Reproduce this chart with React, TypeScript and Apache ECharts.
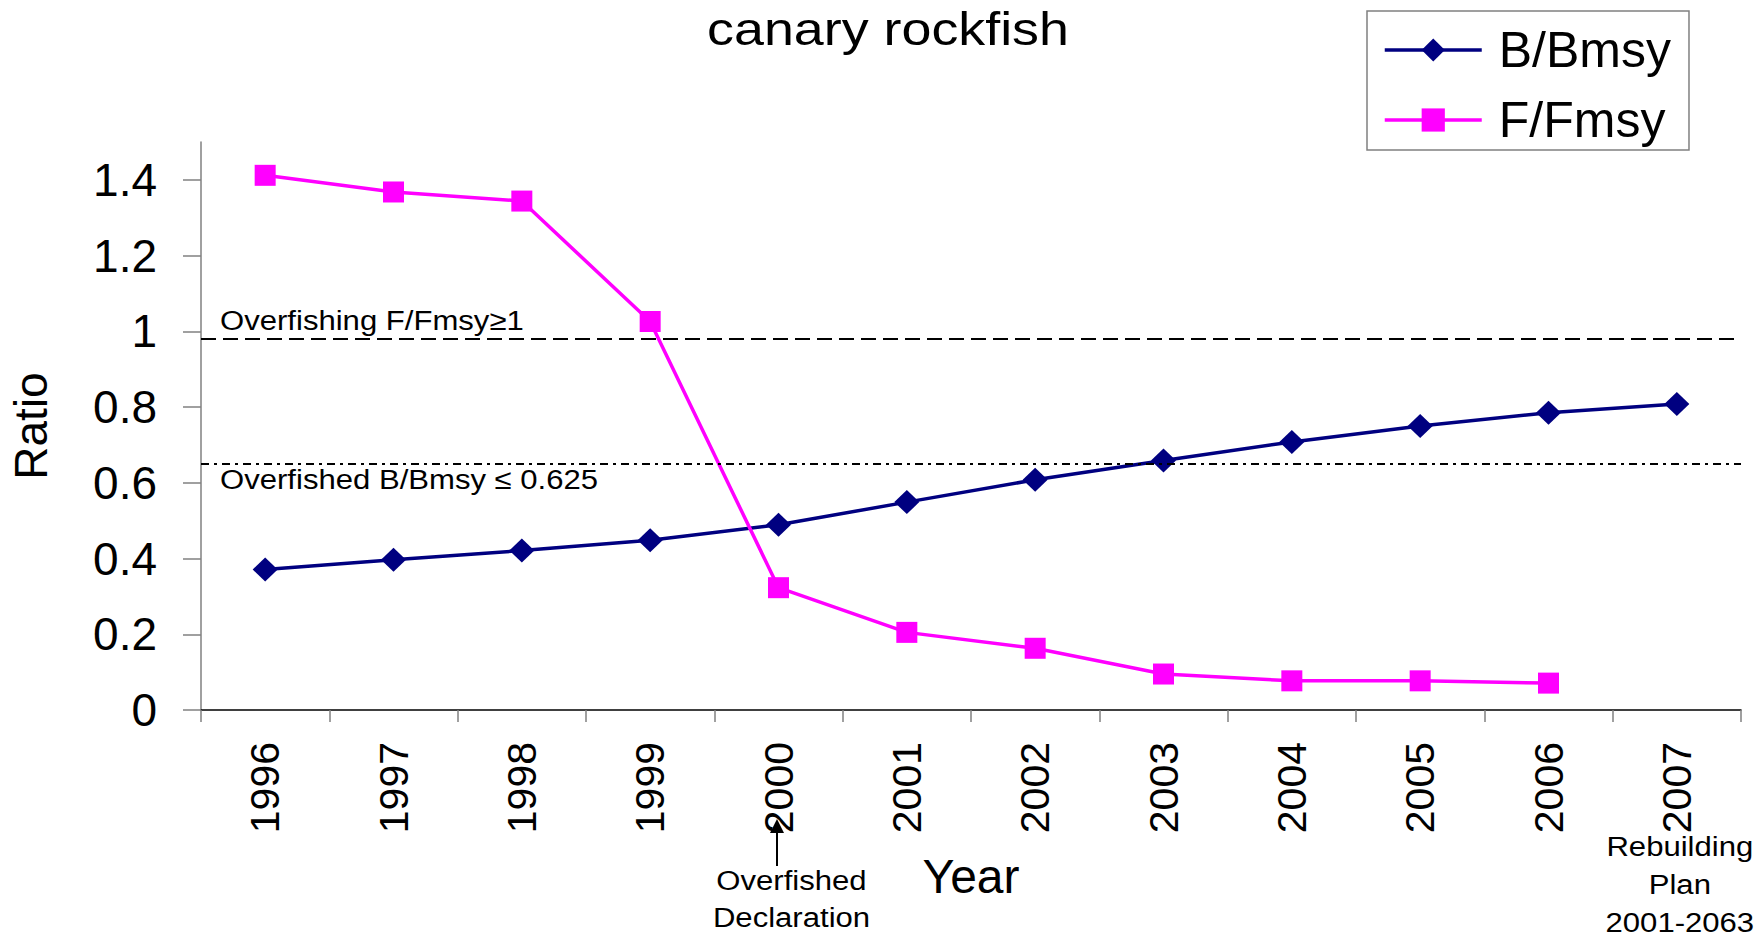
import React, { useEffect, useRef } from "react";
import * as echarts from "echarts";

const years = ["1996", "1997", "1998", "1999", "2000", "2001", "2002", "2003", "2004", "2005", "2006", "2007"];
const bRatio = [0.371, 0.397, 0.421, 0.448, 0.489, 0.549, 0.608, 0.659, 0.708, 0.75, 0.785, 0.808];
const fRatio = [1.412, 1.368, 1.344, 1.026, 0.323, 0.205, 0.163, 0.095, 0.077, 0.077, 0.071, null];
const yTicks = [0, 0.2, 0.4, 0.6, 0.8, 1, 1.2, 1.4];
const overfishingLevel = 0.985;
const overfishedLevel = 0.646;

const FONT = '"Liberation Sans", Arial, Helvetica, sans-serif';

export default function App() {
  const ref = useRef<HTMLDivElement>(null);

  useEffect(() => {
    if (!ref.current) return;
    const chart = echarts.init(ref.current, undefined, { renderer: "svg" });
    chart.setOption({
      animation: false,
      backgroundColor: "#ffffff",
      grid: { left: 201, right: 17, top: 142, bottom: 228, containLabel: false },
      legend: {
        orient: "vertical",
        left: 1367,
        top: 11,
        padding: [14, 18, 5, 16],
        itemGap: 20,
        itemWidth: 97,
        itemHeight: 29,
        borderColor: "#808080",
        borderWidth: 1.5,
        lineStyle: { width: 3.5 },
        textStyle: { fontSize: 50, fontFamily: FONT, color: "#000", padding: [0, 0, 0, 12] },
        data: ["B/Bmsy", "F/Fmsy"],
      },
      xAxis: {
        type: "category",
        data: years,
        boundaryGap: true,
        axisLine: { lineStyle: { color: "#000", width: 1.5 } },
        axisTick: { show: true, length: 12, lineStyle: { color: "#808080", width: 1.5 } },
        axisLabel: { rotate: 90, fontSize: 41, fontFamily: FONT, color: "#000", margin: 32, interval: 0 },
        name: "Year",
        nameLocation: "middle",
        nameGap: 142,
        nameTextStyle: { fontSize: 48, fontFamily: FONT, color: "#000" },
      },
      yAxis: {
        type: "value",
        min: 0,
        max: 1.5,
        interval: 0.2,
        splitLine: { show: false },
        axisLine: { show: true, lineStyle: { color: "#808080", width: 1.5 } },
        axisTick: { show: true, length: 18, customValues: yTicks, lineStyle: { color: "#808080", width: 1.5 } },
        axisLabel: { fontSize: 46, fontFamily: FONT, color: "#000", margin: 44, customValues: yTicks },
        name: "Ratio",
        nameLocation: "middle",
        nameGap: 147,
        nameTextStyle: { fontSize: 46, fontFamily: FONT, color: "#000" },
      },
      series: [
        {
          name: "B/Bmsy",
          type: "line",
          data: bRatio,
          symbol: "diamond",
          symbolSize: [25, 24],
          color: "#000080",
          lineStyle: { width: 3.5, color: "#000080" },
          itemStyle: { color: "#000080" },
          z: 3,
          markLine: {
            silent: true,
            symbol: ["none", "none"],
            label: { show: false },
            data: [
              { yAxis: overfishingLevel, lineStyle: { type: [15, 7], color: "#000", width: 2 } },
              { yAxis: overfishedLevel, lineStyle: { type: [8, 5, 3, 5], color: "#000", width: 2 } },
            ],
          },
        },
        {
          name: "F/Fmsy",
          type: "line",
          data: fRatio,
          symbol: "rect",
          symbolSize: 21,
          color: "#FF00FF",
          lineStyle: { width: 3.5, color: "#FF00FF" },
          itemStyle: { color: "#FF00FF" },
          z: 4,
        },
      ],
    });

    const x2000 = chart.convertToPixel({ xAxisIndex: 0 }, "2000") as number;
    const x2007 = chart.convertToPixel({ xAxisIndex: 0 }, "2007") as number;
    const yFish = chart.convertToPixel({ yAxisIndex: 0 }, overfishingLevel) as number;
    const yFished = chart.convertToPixel({ yAxisIndex: 0 }, overfishedLevel) as number;
    const xLeft = chart.convertToPixel({ xAxisIndex: 0 }, years[0]) as number;
    const gridLeft = xLeft - (x2007 - xLeft) / 22;

    const txt = (text: string, x: number, y: number, size: number, align: string, sx: number) => ({
      type: "text",
      x,
      y,
      scaleX: sx,
      style: { text, fill: "#000", fontSize: size, fontFamily: FONT, align, verticalAlign: "middle" },
    });

    const ax = x2000 - 1.5;
    chart.setOption({
      graphic: [
        txt("canary rockfish", 888, 29, 46, "center", 1.17),
        txt("Overfishing F/Fmsy\u22651", gridLeft + 19, yFish - 7.7 - 9.7, 28, "left", 1.11),
        txt("Overfished B/Bmsy \u2264 0.625", gridLeft + 19, yFished + 23 - 9.7, 28, "left", 1.11),
        txt("Overfished", x2000 + 13, 880.3, 28, "center", 1.11),
        txt("Declaration", x2000 + 13, 917.3, 28, "center", 1.11),
        txt("Rebuilding", x2007 + 3, 846.3, 28, "center", 1.11),
        txt("Plan", x2007 + 3, 884.3, 28, "center", 1.11),
        txt("2001-2063", x2007 + 3, 922.3, 28, "center", 1.11),
        {
          type: "line",
          shape: { x1: ax, y1: 866, x2: ax, y2: 830 },
          style: { stroke: "#000", lineWidth: 2 },
        },
        {
          type: "polygon",
          shape: { points: [[ax, 819], [ax - 7, 833], [ax + 7, 833]] },
          style: { fill: "#000" },
        },
      ],
    });

    return () => chart.dispose();
  }, []);

  return (
    <div
      ref={ref}
      style={{ position: "fixed", left: 0, top: 0, width: "1758px", height: "938px", background: "#fff" }}
    />
  );
}
